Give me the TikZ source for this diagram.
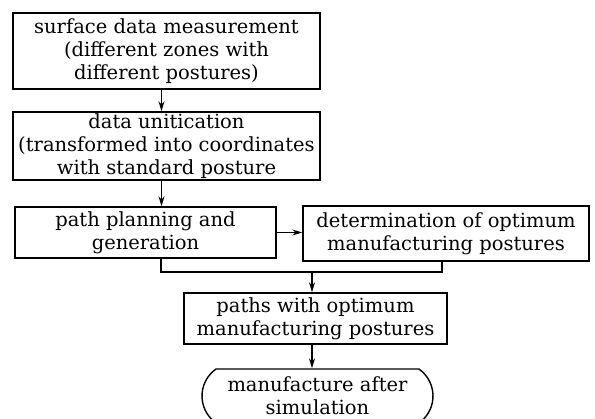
\documentclass[tikz,border=0pt]{standalone}
\usepackage{fontspec}
\setmainfont{DejaVu Serif}
\usetikzlibrary{arrows.meta,shapes.misc}

\tikzset{
  box/.style={draw, line width=1.4pt, align=center, inner sep=0pt,
    font=\fontsize{19.5}{23}\selectfont},
  term/.style={box, rounded rectangle, rounded rectangle arc length=110},
  arr/.style={line width=1.3pt, -{Stealth[length=10pt,width=6pt]}},
  link/.style={line width=1.3pt}
}

\begin{document}
\begin{tikzpicture}[x=1pt,y=-1pt]
% Page frame
\useasboundingbox (0,0) rectangle (595,419);

% Process boxes
\node[box, minimum width=307, minimum height=76] (meas) at (166.5,51)
  {surface data measurement\\(different zones with\\different postures)};
\node[box, minimum width=307, minimum height=68] (unit) at (166.5,146)
  {data unitication\\(transformed into coordinates\\with standard posture};
\node[box, minimum width=261, minimum height=51] (plan) at (145.5,232.5)
  {path planning and\\generation};
\node[box, minimum width=286, minimum height=55] (optim) at (446,233.5)
  {determination of optimum\\manufacturing postures};
\node[box, minimum width=263, minimum height=51] (paths) at (315.5,318.5)
  {paths with optimum\\manufacturing postures};
\node[term, minimum width=231, minimum height=54] (manu) at (317.5,396)
  {manufacture after\\simulation};

% Join point under the two middle boxes
\coordinate (join) at (312,272);

% Connectors
\draw[arr] ([xshift=-5]meas.south) -- ([xshift=-5]unit.north);
\draw[arr] ([xshift=-5]unit.south) -- ([xshift=-5]unit.south |- plan.north);
\draw[arr] (plan.east) -- (plan.east -| optim.west);
\draw[link] ([xshift=15.5]plan.south) |- (join) -| ([xshift=-4]optim.south);
\draw[arr] (join) -- (join |- paths.north);
\draw[arr] ([xshift=-3.5]paths.south) -- ([xshift=-3.5]paths.south |- manu.north);
\end{tikzpicture}
\end{document}
